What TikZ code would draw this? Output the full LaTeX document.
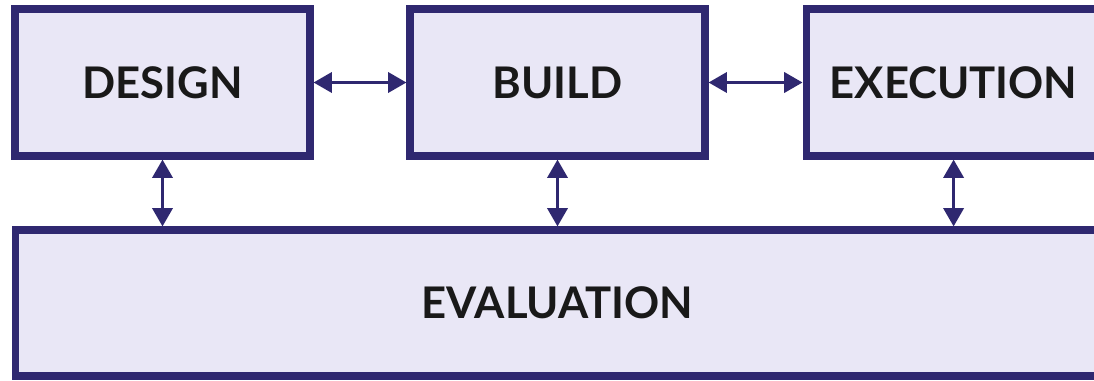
\documentclass[tikz,border=0pt]{standalone}
\usepackage{fontspec}
\setmainfont{Lato}
\usepackage{xcolor}
\usetikzlibrary{positioning,arrows.meta}

\definecolor{boxfill}{HTML}{E9E7F6}
\definecolor{boxline}{HTML}{2F2870}

\begin{document}
\begin{tikzpicture}[
    stage/.style={rectangle, draw=boxline, fill=boxfill, line width=5pt,
        minimum width=7.375cm, minimum height=3.675cm,
        font=\fontsize{31}{36}\selectfont\bfseries, text=black!90},
    evalbox/.style={stage, minimum width=27.125cm, minimum height=3.65cm},
    link/.style={boxline, line width=2.6pt,
        {Triangle[length=4.6mm,width=5mm]}-{Triangle[length=4.6mm,width=5mm]}}]

    \useasboundingbox (0,0) rectangle (27.35,-9.525);
    \clip (0,0) rectangle (27.35,-9.525);

    % Nodes
    \node[stage] (design) at (4.0625,-2.0625) {DESIGN};
    \node[stage] (build) at (13.9375,-2.0625) {BUILD};
    \node[stage] (exec) at (23.84,-2.0625) {EXECUTION};
    \node[evalbox] (eval) at (13.94,-7.575) {EVALUATION};

    % Edges
    \draw[link] (design.east) -- (build.west);
    \draw[link] (build.east) -- (exec.west);
    \draw[link] (design.south) -- (design.south |- eval.north);
    \draw[link] (build.south) -- (build.south |- eval.north);
    \draw[link] (exec.south) -- (exec.south |- eval.north);
\end{tikzpicture}
\end{document}
